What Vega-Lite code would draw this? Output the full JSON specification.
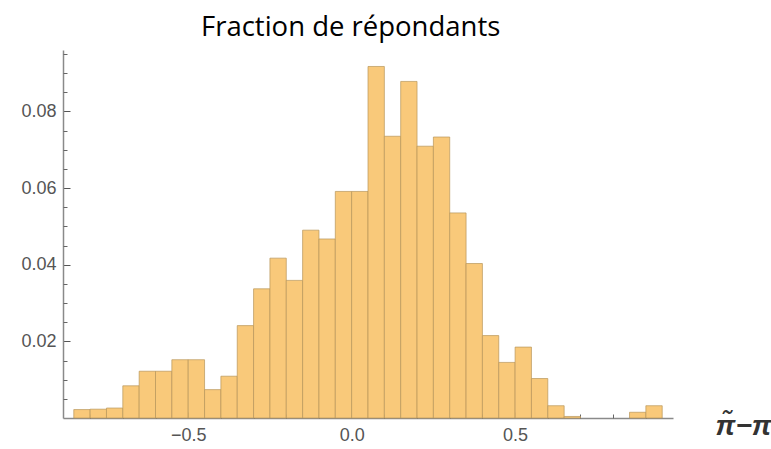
{
  "$schema": "https://vega.github.io/schema/vega-lite/v6.json",
  "width": 610,
  "height": 368,
  "autosize": {"type": "none"},
  "padding": {"left": 63, "top": 50, "right": 98, "bottom": 31},
  "background": "white",
  "title": {
    "text": "Fraction de répondants",
    "font": "Open Sans",
    "fontSize": 27.5,
    "fontWeight": "normal",
    "color": "#000000",
    "anchor": "start",
    "dx": 180,
    "offset": 9
  },
  "config": {"view": {"stroke": null}},
  "data": {
    "values": [
      {"start": -0.85, "end": -0.80, "frac": 0.0022},
      {"start": -0.80, "end": -0.75, "frac": 0.0023},
      {"start": -0.75, "end": -0.70, "frac": 0.0026},
      {"start": -0.70, "end": -0.65, "frac": 0.0084},
      {"start": -0.65, "end": -0.60, "frac": 0.0122},
      {"start": -0.60, "end": -0.55, "frac": 0.0122},
      {"start": -0.55, "end": -0.50, "frac": 0.0152},
      {"start": -0.50, "end": -0.45, "frac": 0.0152},
      {"start": -0.45, "end": -0.40, "frac": 0.0074},
      {"start": -0.40, "end": -0.35, "frac": 0.0109},
      {"start": -0.35, "end": -0.30, "frac": 0.0241},
      {"start": -0.30, "end": -0.25, "frac": 0.0337},
      {"start": -0.25, "end": -0.20, "frac": 0.0417},
      {"start": -0.20, "end": -0.15, "frac": 0.0359},
      {"start": -0.15, "end": -0.10, "frac": 0.0490},
      {"start": -0.10, "end": -0.05, "frac": 0.0467},
      {"start": -0.05, "end": 0.00, "frac": 0.0591},
      {"start": 0.00, "end": 0.05, "frac": 0.0591},
      {"start": 0.05, "end": 0.10, "frac": 0.0917},
      {"start": 0.10, "end": 0.15, "frac": 0.0735},
      {"start": 0.15, "end": 0.20, "frac": 0.0878},
      {"start": 0.20, "end": 0.25, "frac": 0.0709},
      {"start": 0.25, "end": 0.30, "frac": 0.0733},
      {"start": 0.30, "end": 0.35, "frac": 0.0535},
      {"start": 0.35, "end": 0.40, "frac": 0.0403},
      {"start": 0.40, "end": 0.45, "frac": 0.0215},
      {"start": 0.45, "end": 0.50, "frac": 0.0145},
      {"start": 0.50, "end": 0.55, "frac": 0.0185},
      {"start": 0.55, "end": 0.60, "frac": 0.0103},
      {"start": 0.60, "end": 0.65, "frac": 0.0032},
      {"start": 0.65, "end": 0.70, "frac": 0.0004},
      {"start": 0.85, "end": 0.90, "frac": 0.0015},
      {"start": 0.90, "end": 0.95, "frac": 0.0032}
    ]
  },
  "resolve": {"axis": {"x": "independent", "y": "independent"}},
  "layer": [
    {
      "mark": {"type": "rect", "fill": "#F9C97A", "stroke": "#B8955A", "strokeWidth": 1, "strokeOpacity": 0.7},
      "encoding": {
        "x": {
          "field": "start", "type": "quantitative",
          "scale": {"domain": [-0.883, 0.983], "nice": false, "zero": false},
          "axis": {
            "values": [-0.5, 0, 0.5],
            "format": ".1f",
            "title": "π̃−π",
            "titleFont": "Liberation Sans",
            "titleFontSize": 28,
            "titleFontWeight": "bold",
            "titleFontStyle": "italic",
            "titleColor": "#333333",
            "titleAnchor": "end",
            "titleAngle": 0,
            "titleAlign": "left",
            "titleBaseline": "middle",
            "titleX": 652,
            "titleY": 8,
            "grid": false,
            "domainColor": "#8a8a8a",
            "domainWidth": 1.5,
            "tickColor": "#555555",
            "tickSize": -6,
            "labelFont": "Liberation Sans",
            "labelFontSize": 18,
            "labelColor": "#555555",
            "labelPadding": 14,
            "labelFlush": false
          }
        },
        "x2": {"field": "end"},
        "y": {
          "field": "frac", "type": "quantitative",
          "scale": {"domain": [0, 0.096], "nice": false},
          "axis": {
            "values": [0.02, 0.04, 0.06, 0.08],
            "format": ".2f",
            "title": null,
            "grid": false,
            "domainColor": "#8a8a8a",
            "domainWidth": 1.5,
            "tickColor": "#555555",
            "tickSize": -7,
            "labelFont": "Liberation Sans",
            "labelFontSize": 18,
            "labelColor": "#555555",
            "labelPadding": 14
          }
        },
        "y2": {"datum": 0}
      }
    },
    {
      "mark": {"type": "rect", "opacity": 0},
      "encoding": {
        "x": {
          "field": "start", "type": "quantitative",
          "axis": {
            "orient": "bottom",
            "values": [-0.8, -0.7, -0.6, -0.4, -0.3, -0.2, -0.1, 0.1, 0.2, 0.3, 0.4, 0.6, 0.7, 0.8, 0.9],
            "labels": false,
            "domain": false,
            "title": null,
            "grid": false,
            "tickColor": "#666666",
            "tickSize": -4
          }
        },
        "x2": {"field": "end"},
        "y": {
          "field": "frac", "type": "quantitative",
          "axis": {
            "orient": "left",
            "values": [0.005, 0.01, 0.015, 0.025, 0.03, 0.035, 0.045, 0.05, 0.055, 0.065, 0.07, 0.075, 0.085, 0.09, 0.095],
            "labels": false,
            "domain": false,
            "title": null,
            "grid": false,
            "tickColor": "#666666",
            "tickSize": -4
          }
        },
        "y2": {"datum": 0}
      }
    }
  ]
}
